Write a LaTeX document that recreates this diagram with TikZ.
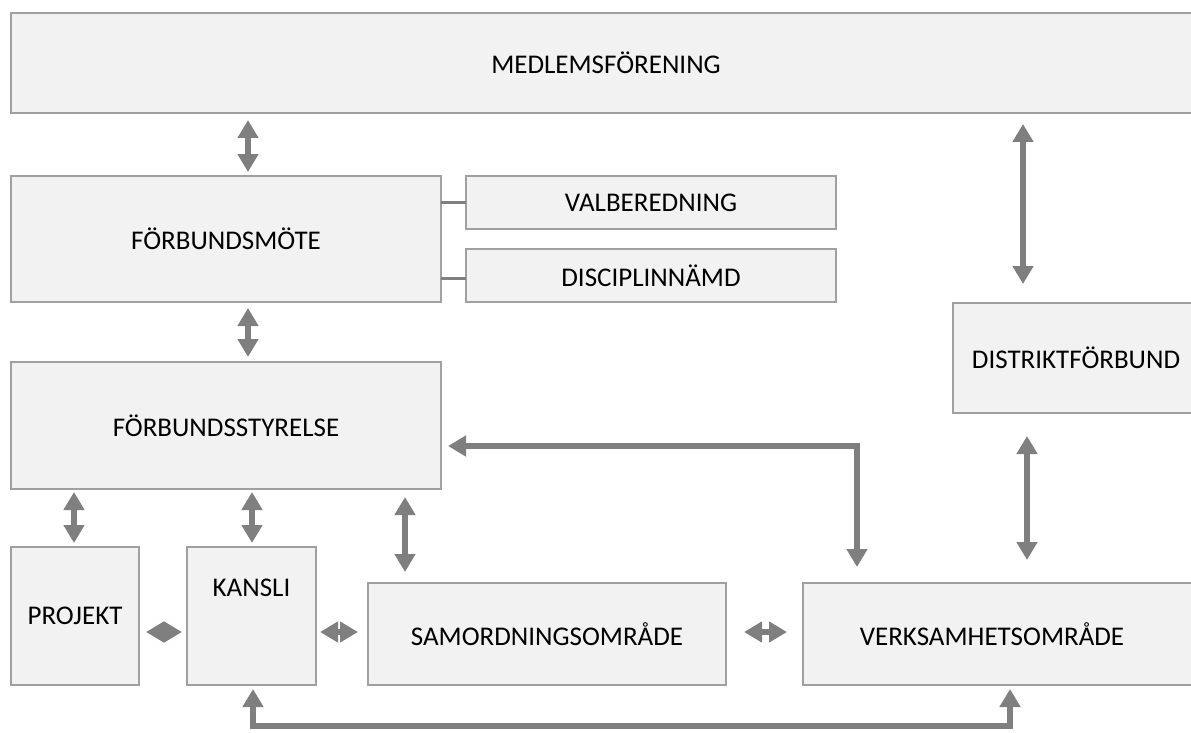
\documentclass[tikz,border=0pt]{standalone}
\usepackage{fontspec}
\setmainfont{Carlito}
\usepackage{tikz}
\usetikzlibrary{arrows.meta}
\usetikzlibrary{positioning}
\definecolor{boxfill}{HTML}{F2F2F2}
\definecolor{boxline}{HTML}{A0A0A0}
\definecolor{arrowgray}{HTML}{7F7F7F}
\tikzset{
	orgbox/.style={draw=boxline, fill=boxfill, line width=1.4pt, inner sep=0pt, outer sep=0pt, anchor=north west, align=center, font=\fontsize{27}{32}\selectfont},
	biarrow/.style={draw=arrowgray, line width=6pt, {Triangle[width=20pt,length=18pt]}-{Triangle[width=20pt,length=18pt]}, shorten <=6pt, shorten >=6pt},
	link/.style={draw=arrowgray, line width=3pt}
}
\begin{document}
\begin{tikzpicture}[x=1pt,y=-1pt]
		\clip (0,0) rectangle (1191,733);
		\node[orgbox, minimum width=1190pt, minimum height=100pt] (medlem) at (11,13) {MEDLEMSFÖRENING};
		\node[orgbox, minimum width=430pt, minimum height=126pt] (mote) at (11,176) {FÖRBUNDSMÖTE};
		\node[orgbox, minimum width=370pt, minimum height=53pt] (valb) at (466,176) {VALBEREDNING};
		\node[orgbox, minimum width=370pt, minimum height=53pt] (disc) at (466,249) {DISCIPLINNÄMD};
		\node[orgbox, minimum width=430pt, minimum height=127pt] (styr) at (11,362) {FÖRBUNDSSTYRELSE};
		\node[orgbox, minimum width=250pt, minimum height=110pt] (distr) at (953,303) {\hspace*{-4pt}DISTRIKTFÖRBUND};
		\node[orgbox, minimum width=128pt, minimum height=138pt] (proj) at (11,547) {PROJEKT};
		\node[orgbox, minimum width=129pt, minimum height=138pt] (kansli) at (187,547) {\raisebox{56pt}{KANSLI}};
		\node[orgbox, minimum width=358pt, minimum height=102pt] (samord) at (368,583) {SAMORDNINGSOMRÅDE};
		\node[orgbox, minimum width=400pt, minimum height=102pt] (verks) at (803,583) {\hspace*{-22pt}VERKSAMHETSOMRÅDE};
		\draw[link] (valb.west -| mote.east) -- (valb.west);
		\draw[link] ([yshift=-3pt]disc.west -| mote.east) -- ([yshift=-3pt]disc.west);
		\draw[biarrow, shorten <=7pt, shorten >=4pt] ([xshift=237pt]medlem.south west) -- ([xshift=237pt]mote.north west);
		\draw[biarrow, shorten >=5pt] ([xshift=237pt]mote.south west) -- ([xshift=237pt]styr.north west);
		\draw[biarrow, shorten <=3pt, shorten >=4pt] ([xshift=63pt]styr.south west) -- ([xshift=63pt]proj.north west);
		\draw[biarrow, shorten <=3pt, shorten >=4pt] ([xshift=241pt]styr.south west) -- ([xshift=65pt]kansli.north west);
		\draw[biarrow, shorten <=8pt, shorten >=11pt] ([xshift=394pt]styr.south west) -- ([xshift=37pt]samord.north west);
		\draw[biarrow, shorten <=11pt, shorten >=19pt] ([xshift=1012pt]medlem.south west) -- ([xshift=70pt]distr.north west);
		\draw[biarrow, shorten <=23pt, shorten >=23pt] ([xshift=74pt]distr.south west) -- ([xshift=224pt]verks.north west);
		\draw[biarrow, shorten <=7pt, shorten >=16pt] ([yshift=-84pt]styr.north east) -| ([xshift=54pt]verks.north west);
		\draw[biarrow, shorten <=7pt, shorten >=5pt] ([yshift=-85pt]proj.north east) -- ([yshift=-85pt]kansli.north west);
		\draw[biarrow, shorten <=4pt, shorten >=10pt] ([yshift=-85pt]kansli.north east) -- ([yshift=-49pt]samord.north west);
		\draw[biarrow, shorten <=18pt, shorten >=16pt] ([yshift=-49pt]samord.north east) -- ([yshift=-49pt]verks.north west);
		\draw[biarrow, shorten <=4pt, shorten >=4pt] ([xshift=66pt]kansli.south west) -- ++(0,41) -| ([xshift=207pt]verks.south west);
	\end{tikzpicture}
\end{document}
